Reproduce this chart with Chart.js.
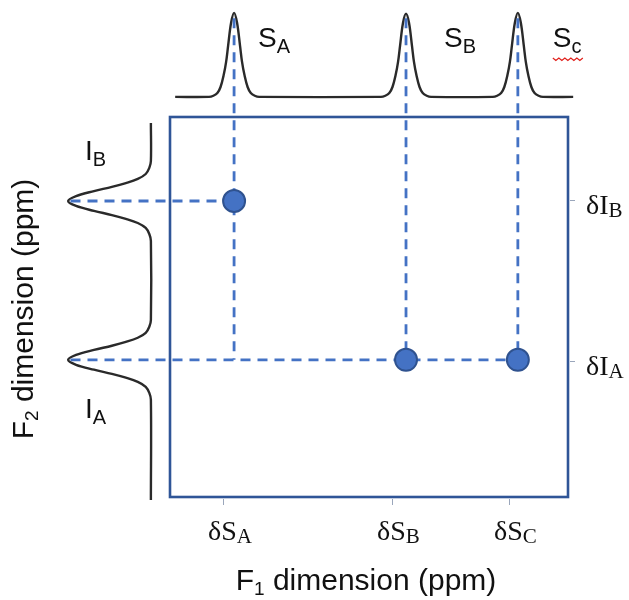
<!DOCTYPE html>
<html>
<head>
<meta charset="utf-8">
<title>2D NMR cross peaks</title>
<script src="https://cdn.jsdelivr.net/npm/chart.js@4.4.0/dist/chart.umd.min.js"></script>
<style>
  html, body { margin: 0; padding: 0; background: #fff; }
  #wrap { width: 629px; height: 600px; }
</style>
</head>
<body>
<div id="wrap"><canvas id="nmr" width="629" height="600"></canvas></div>
<script>
/* 2D spectrum sketch: F1 projection on top, F2 projection on the left, cross peaks in the box */

// cross peaks (F1 = x, F2 = y), arbitrary ppm-like units
const crossF1 = [1.61, 5.93, 8.74];
const crossF2 = [7.79, 3.61, 3.61];

// tick marks and their labels
const f1TickPos = [1.33, 5.58, 8.52];
const f1TickSub = ['A', 'B', 'C'];
const f2TickPos = [7.82, 3.58];
const f2TickSub = ['B', 'A'];

// projection labels
const f1PeakSub = ['A', 'B', 'c'];
const f2PeakSub = ['B', 'A'];

// F1 projection trace (top)
const f1TraceX = [0.13,
  0.98, 1.09, 1.19, 1.27, 1.35, 1.41, 1.46, 1.535, 1.61, 1.685, 1.76, 1.81, 1.87, 1.95, 2.03, 2.13, 2.24,
  5.30, 5.41, 5.51, 5.59, 5.67, 5.73, 5.78, 5.855, 5.93, 6.005, 6.08, 6.13, 6.19, 6.27, 6.35, 6.45, 6.56,
  8.11, 8.22, 8.32, 8.40, 8.48, 8.54, 8.59, 8.665, 8.74, 8.815, 8.89, 8.94, 9.00, 9.08, 9.16, 9.26, 9.37,
  10.13];
const f1TraceY = [10.53,
  10.53, 10.56, 10.63, 10.79, 11.11, 11.45, 11.87, 12.48, 12.74, 12.48, 11.87, 11.45, 11.11, 10.79, 10.63, 10.56, 10.53,
  10.53, 10.56, 10.63, 10.79, 11.11, 11.45, 11.87, 12.48, 12.72, 12.48, 11.87, 11.45, 11.11, 10.79, 10.63, 10.56, 10.53,
  10.53, 10.56, 10.63, 10.79, 11.11, 11.45, 11.87, 12.48, 12.74, 12.48, 11.87, 11.45, 11.11, 10.79, 10.63, 10.56, 10.53,
  10.53];

// F2 projection trace (left)
const f2TraceY = [9.84,
  8.84, 8.66, 8.50, 8.37, 8.26, 8.16, 8.05, 7.92, 7.79, 7.66, 7.53, 7.42, 7.32, 7.21, 7.08, 6.92, 6.74,
  4.66, 4.48, 4.32, 4.19, 4.08, 3.98, 3.87, 3.74, 3.61, 3.48, 3.35, 3.24, 3.14, 3.03, 2.90, 2.74, 2.56,
  -0.08];
const f2TraceX = [-0.48,
  -0.48, -0.52, -0.61, -0.81, -1.11, -1.46, -1.91, -2.36, -2.56, -2.36, -1.91, -1.46, -1.11, -0.81, -0.61, -0.52, -0.48,
  -0.48, -0.52, -0.61, -0.81, -1.11, -1.46, -1.91, -2.36, -2.56, -2.36, -1.91, -1.46, -1.11, -0.81, -0.61, -0.52, -0.48,
  -0.48];

// where the guide lines start
const f1GuideTop = 12.6;
const f2GuideLeft = -2.5;

const BLUE = '#4472C4';
const DOT_EDGE = '#2F528F';
const FRAME = '#2F5597';
const TRACE = '#2a2a2a';
const INK = '#111';
const SANS = '"Liberation Sans", Arial, sans-serif';
const SERIF = '"Liberation Serif", "Times New Roman", serif';

function pts(xs, ys) { return xs.map((v, i) => ({ x: v, y: ys[i] })); }

function guides() {
  const out = [];
  const lowest = Math.min(...crossF2);
  [...new Set(crossF1)].forEach((f1) => out.push([{ x: f1, y: f1GuideTop }, { x: f1, y: lowest }]));
  [...new Set(crossF2)].forEach((f2) => {
    const far = Math.max(...crossF1.filter((_, i) => crossF2[i] === f2));
    out.push([{ x: f2GuideLeft, y: f2 }, { x: far, y: f2 }]);
  });
  return out;
}

// draw text runs like [['F', 30], ['1', 19, 5]] (text, size, baseline drop)
function runs(ctx, parts, x, y, family, align) {
  let w = 0;
  parts.forEach((p) => { ctx.font = p[1] + 'px ' + family; w += ctx.measureText(p[0]).width; });
  let cx = align === 'center' ? x - w / 2 : x;
  parts.forEach((p) => {
    ctx.font = p[1] + 'px ' + family;
    ctx.fillText(p[0], cx, y + (p[2] || 0));
    cx += ctx.measureText(p[0]).width;
  });
  return w;
}

const frame = {
  id: 'frame',
  afterDatasetsDraw(chart) {
    const { ctx, chartArea: a, scales: { x, y } } = chart;
    ctx.save();
    ctx.strokeStyle = FRAME;
    ctx.lineWidth = 2.6;
    ctx.strokeRect(a.left, a.top, a.right - a.left, a.bottom - a.top);

    ctx.strokeStyle = '#9aa6bb';
    ctx.lineWidth = 1;
    ctx.beginPath();
    f1TickPos.forEach((v) => { const px = Math.round(x.getPixelForValue(v)) + 0.5; ctx.moveTo(px, a.bottom + 2); ctx.lineTo(px, a.bottom + 8); });
    f2TickPos.forEach((v) => { const py = Math.round(y.getPixelForValue(v)) + 0.5; ctx.moveTo(a.right + 2, py); ctx.lineTo(a.right + 7, py); });
    ctx.stroke();

    ctx.fillStyle = INK;
    ctx.textAlign = 'left';
    ctx.textBaseline = 'alphabetic';
    f1TickPos.forEach((v, i) => runs(ctx, [['δS', 28], [f1TickSub[i], 21, 3]], x.getPixelForValue(v) - 15, a.bottom + 43, SERIF));
    f2TickPos.forEach((v, i) => runs(ctx, [['δI', 28], [f2TickSub[i], 21, 3]], a.right + 18, y.getPixelForValue(v) + 14, SERIF));

    // projection labels
    const dx = [24, 38, 35];
    let scW = 0;
    crossF1.forEach((v, i) => {
      const w = runs(ctx, [['S', 28], [f1PeakSub[i], 20, 6]], x.getPixelForValue(v) + dx[i], 47, SANS);
      if (i === 2) scW = w;
    });
    const ipos = [[85, -41], [85, 58]];
    [...new Set(crossF2)].forEach((v, i) => runs(ctx, [['I', 28], [f2PeakSub[i], 20, 6]], ipos[i][0], y.getPixelForValue(v) + ipos[i][1], SANS));

    // spell-check squiggle under S_c, as in the source picture
    const sx = x.getPixelForValue(crossF1[2]) + dx[2];
    ctx.strokeStyle = '#e0201b';
    ctx.lineWidth = 1.2;
    ctx.beginPath();
    for (let k = 0; k <= Math.round(scW + 2); k += 3) {
      const yy = 58 + (k / 3 % 2 ? 2.5 : 0);
      k === 0 ? ctx.moveTo(sx + k, yy) : ctx.lineTo(sx + k, yy);
    }
    ctx.stroke();

    // axis titles
    runs(ctx, [['F', 30], ['1', 19, 5], [' dimension (ppm)', 30]], 366, 590, SANS, 'center');
    ctx.translate(33, 309);
    ctx.rotate(-Math.PI / 2);
    runs(ctx, [['F', 30], ['2', 19, 5], [' dimension (ppm)', 30]], 0, 0, SANS, 'center');
    ctx.restore();
  },
};

const datasets = [
  {
    data: pts(crossF1, crossF2),
    backgroundColor: BLUE, borderColor: DOT_EDGE, borderWidth: 2,
    pointRadius: 11, pointHoverRadius: 11, showLine: false,
  },
  ...guides().map((g) => ({
    data: g, showLine: true, borderColor: BLUE, borderWidth: 2.8, borderDash: [10, 7],
    pointRadius: 0, tension: 0, clip: false,
  })),
  {
    data: pts(f1TraceX, f1TraceY), showLine: true, borderColor: TRACE, borderWidth: 2.4,
    pointRadius: 0, tension: 0.35, clip: false,
  },
  {
    data: pts(f2TraceX, f2TraceY), showLine: true, borderColor: TRACE, borderWidth: 2.4,
    pointRadius: 0, tension: 0.35, clip: false,
  },
];

new Chart(document.getElementById('nmr'), {
  type: 'scatter',
  data: { datasets },
  options: {
    responsive: false,
    devicePixelRatio: 1,
    animation: false,
    layout: { padding: { left: 170, right: 61, top: 117, bottom: 103 } },
    elements: { line: { capBezierPoints: false } },
    plugins: { legend: { display: false }, tooltip: { enabled: false } },
    scales: {
      x: { type: 'linear', min: 0, max: 10, display: false },
      y: { type: 'linear', min: 0, max: 10, display: false },
    },
  },
  plugins: [frame],
});
</script>
</body>
</html>
